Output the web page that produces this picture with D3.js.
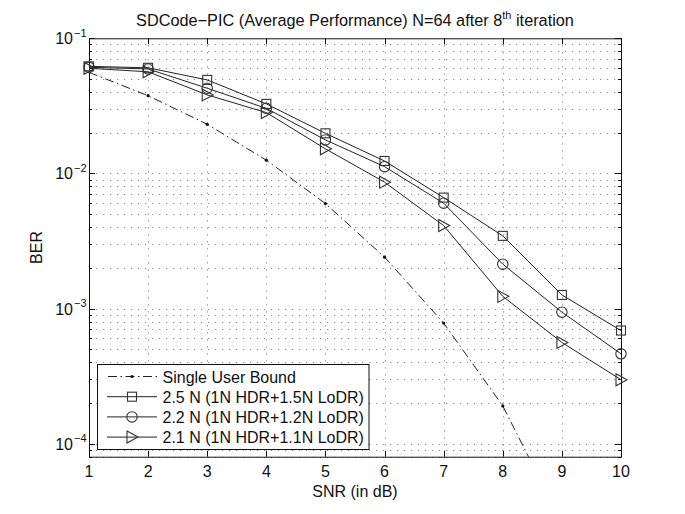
<!DOCTYPE html>
<html><head><meta charset="utf-8">
<script src="https://cdn.jsdelivr.net/npm/d3@7/dist/d3.min.js"></script>
<style>
body{margin:0;background:#fff;}
text{font-family:"Liberation Sans",Arial,Helvetica,sans-serif;fill:#111;}
</style></head>
<body><svg id="c" width="685" height="514"></svg>
<script>
// ---- data ----
const snr = [1, 2, 3, 4, 5, 6, 7, 8, 9, 10];
const singleUser = [0.056, 0.0376, 0.0231, 0.01253, 0.00598, 0.0024, 0.00078, 0.00019, 0.000026, 0.000004];
const ber25 = [0.062, 0.0605, 0.0492, 0.0327, 0.0198, 0.01236, 0.00662, 0.00345, 0.00126, 0.000687];
const ber22 = [0.061, 0.0593, 0.0427, 0.0303, 0.0177, 0.01122, 0.00602, 0.00213, 0.00094, 0.000462];
const ber21 = [0.060, 0.0565, 0.0381, 0.0282, 0.0152, 0.00861, 0.00411, 0.00123, 0.000561, 0.000297];
const seriesNames = ["Single User Bound", "2.5 N (1N HDR+1.5N LoDR)", "2.2 N (1N HDR+1.2N LoDR)", "2.1 N (1N HDR+1.1N LoDR)"];
const xTicks = [1, 2, 3, 4, 5, 6, 7, 8, 9, 10];
const yDecades = [1e-1, 1e-2, 1e-3, 1e-4];
const yDecadeExp = ["−1", "−2", "−3", "−4"];

const svg = d3.select("#c");
const L = 89, R = 621, T = 38.3, B = 456.7;
const x = d3.scaleLinear().domain([1, 10]).range([L, R]);
const y = d3.scaleLog().domain([8e-5, 0.1]).range([B, T]);

svg.append("defs").append("clipPath").attr("id", "clip")
  .append("rect").attr("x", L).attr("y", T).attr("width", R - L).attr("height", B - T);

// minor ticks values
const minorVals = [];
for (let e = -5; e <= -1; e++) for (let m = 1; m <= 9; m++) {
  const v = m * Math.pow(10, e);
  if (v >= 8e-5 * 0.999 && v <= 0.1 * 1.001) minorVals.push(v);
}

// grid
const grid = svg.append("g").attr("stroke", "#8a8a8a").attr("stroke-width", 1).attr("stroke-dasharray", "1.2,5.8");
grid.selectAll(".gy").data(minorVals.filter(v => v < 0.0999)).join("line")
  .attr("x1", L).attr("x2", R).attr("y1", d => Math.round(y(d)) + 0.5).attr("y2", d => Math.round(y(d)) + 0.5);
grid.selectAll(".gx").data(xTicks.slice(1, -1)).join("line")
  .attr("y1", T).attr("y2", B).attr("x1", d => Math.round(x(d)) + 0.5).attr("x2", d => Math.round(x(d)) + 0.5);

// ticks
const tk = svg.append("g").attr("stroke", "#111").attr("stroke-width", 1);
xTicks.forEach(v => {
  const px = Math.round(x(v)) + 0.5;
  tk.append("line").attr("x1", px).attr("x2", px).attr("y1", B).attr("y2", B - 6);
  tk.append("line").attr("x1", px).attr("x2", px).attr("y1", T).attr("y2", T + 6);
});
minorVals.forEach(v => {
  const py = Math.round(y(v)) + 0.5;
  const isMajor = Math.abs(Math.log10(v) - Math.round(Math.log10(v))) < 1e-6;
  const len = isMajor ? 6 : 3;
  tk.append("line").attr("x1", L).attr("x2", L + len).attr("y1", py).attr("y2", py);
  tk.append("line").attr("x1", R).attr("x2", R - len).attr("y1", py).attr("y2", py);
});

// axes box
svg.append("rect").attr("x", L + 0.5).attr("y", T + 0.5).attr("width", R - L).attr("height", B - T)
  .attr("fill", "none").attr("stroke", "#111").attr("stroke-width", 1);

// tick labels
svg.append("g").selectAll("text").data(xTicks).join("text")
  .attr("x", d => x(d)).attr("y", 477).attr("text-anchor", "middle").attr("font-size", 16).text(d => d);
yDecades.forEach((v, i) => {
  const py = y(v);
  svg.append("text").attr("x", 73).attr("y", py + 6).attr("text-anchor", "end").attr("font-size", 16).text("10");
  svg.append("text").attr("x", 74).attr("y", py - 1.5).attr("text-anchor", "start").attr("font-size", 11).text(yDecadeExp[i]);
});

// axis labels & title
svg.append("text").attr("x", (L + R) / 2).attr("y", 497).attr("text-anchor", "middle").attr("font-size", 16).text("SNR (in dB)");
svg.append("text").attr("transform", `translate(42,${(T + B) / 2}) rotate(-90)`).attr("text-anchor", "middle")
  .attr("font-size", 16).text("BER");
const title = svg.append("text").attr("x", (L + R) / 2).attr("y", 26).attr("text-anchor", "middle").attr("font-size", 16.3);
title.append("tspan").text("SDCode−PIC (Average Performance) N=64 after 8");
title.append("tspan").attr("dy", -7).attr("font-size", 11).text("th");
title.append("tspan").attr("dy", 7).text(" iteration");

// data
const plot = svg.append("g").attr("clip-path", "url(#clip)");
const line = d3.line().x((d, i) => x(snr[i])).y(d => y(d));
const markerStroke = "#333";

function drawMarker(g, kind, cx, cy) {
  if (kind === "square") g.append("rect").attr("x", cx - 4.5).attr("y", cy - 4.5).attr("width", 9).attr("height", 9);
  else if (kind === "circle") g.append("circle").attr("cx", cx).attr("cy", cy).attr("r", 5.2);
  else if (kind === "tri") g.append("path").attr("d", `M${cx - 5},${cy - 6}L${cx + 6},${cy}L${cx - 5},${cy + 6}Z`);
  else if (kind === "dot") g.append("circle").attr("cx", cx).attr("cy", cy).attr("r", 1.6).attr("fill", "#111").attr("stroke", "none");
}

plot.append("path").datum(singleUser).attr("d", line).attr("fill", "none").attr("stroke", "#222")
  .attr("stroke-width", 1).attr("stroke-dasharray", "9,3.5,1.5,3.5");
singleUser.forEach((v, i) => drawMarker(plot, "dot", x(snr[i]), y(v)));

const lineSeries = [[ber25, "square"], [ber22, "circle"], [ber21, "tri"]];
lineSeries.forEach(([vals, kind]) => {
  plot.append("path").datum(vals).attr("d", line).attr("fill", "none").attr("stroke", "#222").attr("stroke-width", 1);
  const mg = svg.append("g").attr("fill", "none").attr("stroke", markerStroke).attr("stroke-width", 1.1);
  vals.forEach((v, i) => drawMarker(mg, kind, x(snr[i]), y(v)));
});

// legend
const lg = svg.append("g");
lg.append("rect").attr("x", 97.5).attr("y", 364.5).attr("width", 271.5).attr("height", 85)
  .attr("fill", "#fff").attr("stroke", "#111").attr("stroke-width", 1);
const rowsY = [376.5, 396.7, 416.9, 437.1];
const kinds = ["dot", "square", "circle", "tri"];
rowsY.forEach((ry, i) => {
  const ln = lg.append("line").attr("x1", 107).attr("x2", 157).attr("y1", ry).attr("y2", ry)
    .attr("stroke", "#222").attr("stroke-width", 1);
  if (i === 0) ln.attr("stroke-dasharray", "9,3.5,1.5,3.5").attr("x1", 108);
  const mg = lg.append("g").attr("fill", "none").attr("stroke", markerStroke).attr("stroke-width", 1.1);
  drawMarker(mg, kinds[i], 132, ry);
  lg.append("text").attr("x", 162.5).attr("y", ry + 6).attr("font-size", 16).text(seriesNames[i]);
});
</script></body></html>
